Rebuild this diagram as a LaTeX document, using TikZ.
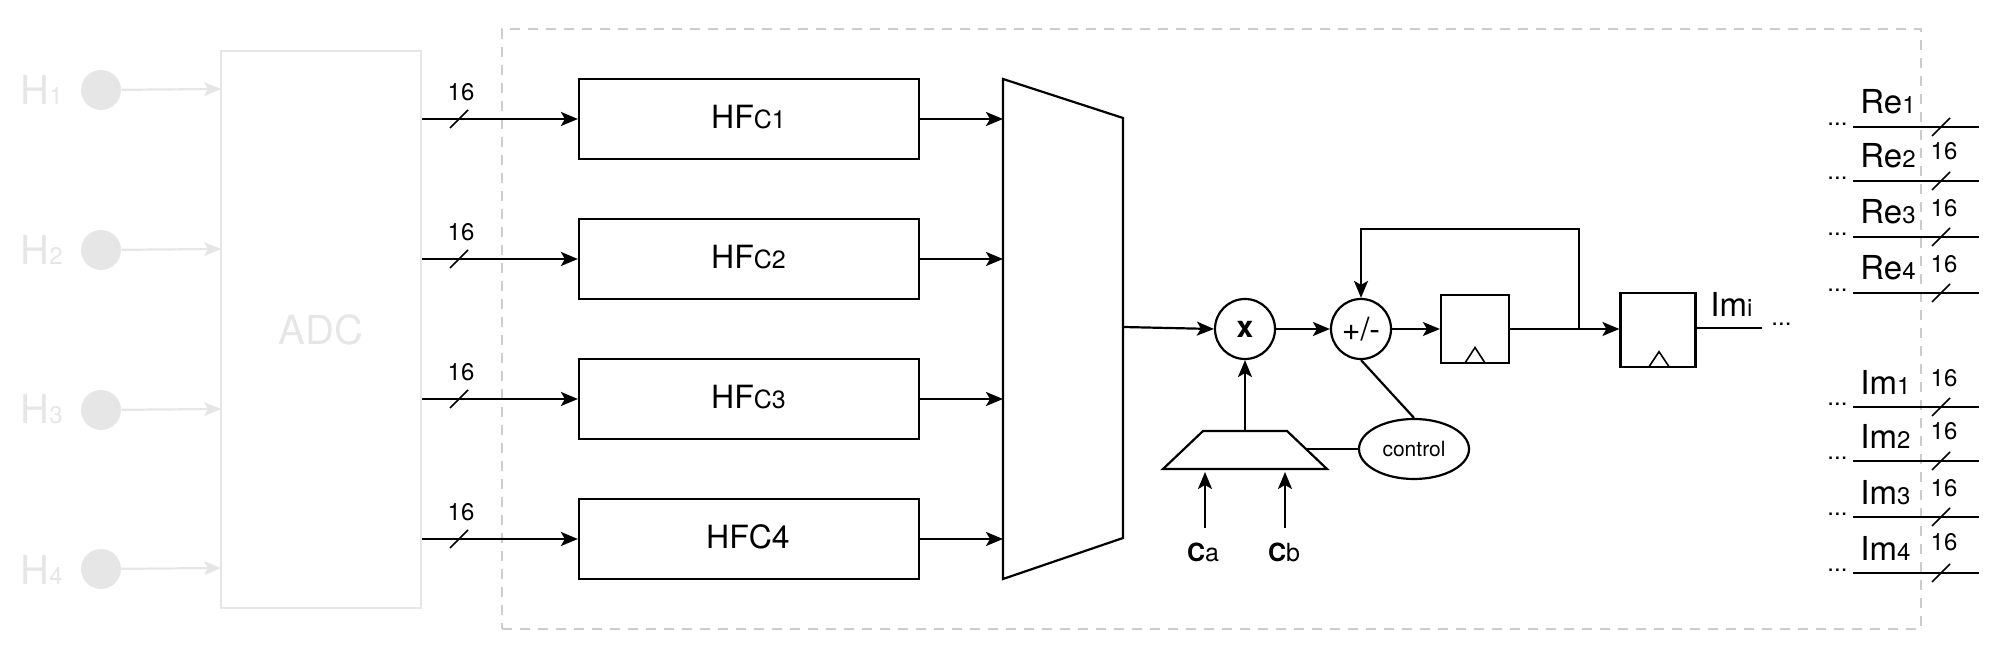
\documentclass[tikz,border=0pt]{standalone}
\usepackage{fontspec}
\setmainfont{TeX Gyre Heros}
\usetikzlibrary{arrows.meta,shapes.geometric}
\definecolor{faded}{HTML}{E6E6E6}
\definecolor{dashgrey}{HTML}{CCCCCC}
\newcommand{\sz}[1]{\fontsize{\the\dimexpr#1pt*1/2\relax}{\the\dimexpr#1pt*1/2\relax}\selectfont}
\tikzset{
 conn/.style={line width=1.1pt,-{Stealth[length=8.5pt,width=7pt,inset=2pt]}},
 plain/.style={line width=1.1pt},
 thin line/.style={line width=.8pt},
 fconn/.style={draw=faded,line width=1.1pt,-{Stealth[length=8.5pt,width=7pt,inset=2pt]}},
 block/.style={draw,line width=1.1pt,minimum width=170pt,minimum height=40pt,inner sep=0pt},
 reg/.style={draw,line width=1.1pt,inner sep=0pt},
 lab/.style={inner sep=0pt,anchor=base west},
 mid/.style={inner sep=0pt,anchor=base},
 circ/.style={draw,circle,line width=1.1pt,minimum size=30pt,inner sep=0pt},
}
\begin{document}
\begin{tikzpicture}[x=0.5pt,y=-0.5pt]
\useasboundingbox (0,0) rectangle (1996,656);
% dashed frame
\node[draw=dashgrey,line width=1pt,dash pattern=on 5pt off 4pt,minimum width=709.5pt,minimum height=300pt,inner sep=0pt] (frame) at (1211.5,329) {};
% faded part
\node[draw=faded,line width=1pt,minimum width=100pt,minimum height=278.5pt,inner sep=0pt,text=faded] (adc) at (321,330) {\sz{40}ADC};
\foreach \i/\y/\b in {1/90/105,2/250/265,3/410/424,4/569/585}{
 \node[circle,fill=faded,minimum size=20pt,inner sep=0pt] (h\i) at (101,\y) {};
 \coordinate (ha\i) at (221,\y-1);
 \draw[fconn] (h\i) -- (ha\i);
 \node[lab,text=faded] (ht\i) at (20,\b) {\sz{40}H\sz{24}\i};
}
% HFC blocks
\foreach \i/\y in {1/119,2/259,3/399,4/539}{
 \node[block] (hf\i) at (749,\y) {};
 \ifnum\i<4
 \node[mid] (hft\i) at (748.5,\y+10) {\sz{32}HF\sz{25}C\i};
 \else
 \node[mid] (hft\i) at (748,\y+10) {\sz{32}HFC4};
 \fi
 \coordinate (a\i) at (422,\y);
 \coordinate (m\i) at (1003,\y);
 \draw[conn] (a\i) -- (hf\i.west);
 \draw[conn] (hf\i.east) -- (m\i);
 \coordinate (sa\i) at (450,\y+9);
 \coordinate (sb\i) at (468,\y-9);
 \draw[thin line] (sa\i) -- (sb\i);
 \node[mid] (n\i) at (461,\y-18) {\sz{24}16};
}
% big mux
\coordinate (mt) at (1003,79);
\draw[plain,line join=miter] (mt) -- (1123,118) -- (1123,538) -- (1003,579) -- cycle;
\coordinate (mo) at (1123,327);
% circuit
\node[circ] (mul) at (1245,329) {\sz{30}\textbf{x}};
\node[circ] (add) at (1361,329) {\sz{32}+/-};
\draw[conn] (mo) -- (mul.west);
\draw[conn] (mul.east) -- (add.west);
\node[reg,minimum width=34pt,minimum height=34pt] (r1) at (1475,329) {};
\node[reg,minimum width=37.5pt,minimum height=37pt] (r2) at (1658,329.7) {};
\draw[thin line] (1465,363) -- (1475,347.5) -- (1485,363);
\draw[thin line] (1649,366.7) -- (1659,351.7) -- (1669,366.7);
\draw[conn] (add.east) -- (r1.west);
\draw[conn] (r1.east) -- (r1.east -| r2.west);
\coordinate (fb) at (1579,329);
\draw[conn] (fb) -- (1579,229) -- (1361,229) -- (add.north);
% small mux
\coordinate (st) at (1245,431);
\draw[plain] (1203,431) -- (1287,431) -- (1327,469) -- (1163,469) -- cycle;
\draw[conn] (st) -- (mul.south);
\node[draw,ellipse,line width=1.1pt,minimum width=55pt,minimum height=30pt,inner sep=0pt] (ctl) at (1414,449) {\sz{21}control};
\coordinate (se) at (1306,449);
\draw[plain] (ctl.west) -- (se);
\draw[plain] (add.south) -- (ctl.north);
\node[mid] (ca) at (1203,562) {\sz{25}\textbf{C}a};
\node[mid] (cb) at (1284,562) {\sz{25}\textbf{C}b};
\coordinate (ca1) at (1205,528); \coordinate (ca2) at (1205,472);
\coordinate (cb1) at (1285,528); \coordinate (cb2) at (1285,472);
\draw[conn] (ca1) -- (ca2);
\draw[conn] (cb1) -- (cb2);
% Imi output
\coordinate (io) at (1762,328);
\draw[plain] (r2.east |- io) -- (io);
\node[lab] (imi) at (1710,317) {\sz{33}Im\sz{24}i};
\node[lab] (imd) at (1771,326) {\sz{24}...};
% outputs
\foreach \n/\d/\y/\b/\s in {Re/1/127/114/0,Re/2/181/168/160,Re/3/237/224/217,Re/4/293/280/273,Im/1/407/395/387,Im/2/461/449/440,Im/3/517/505/497,Im/4/573/561/551}{
 \coordinate (l\n\d) at (1853,\y);
 \coordinate (e\n\d) at (1979,\y);
 \draw[plain] (l\n\d) -- (e\n\d);
 \coordinate (sl\n\d) at (1932,\y+9);
 \coordinate (sr\n\d) at (1950,\y-9);
 \draw[thin line] (sl\n\d) -- (sr\n\d);
 \node[lab] (t\n\d) at (1860,\b) {\sz{33}\n\sz{24}\d};
 \node[lab] (dt\n\d) at (1827,\y-1) {\sz{24}...};
 \ifnum\s>0
 \node[mid] (k\n\d) at (1944,\s) {\sz{24}16};
 \fi
}
\end{tikzpicture}
\end{document}
